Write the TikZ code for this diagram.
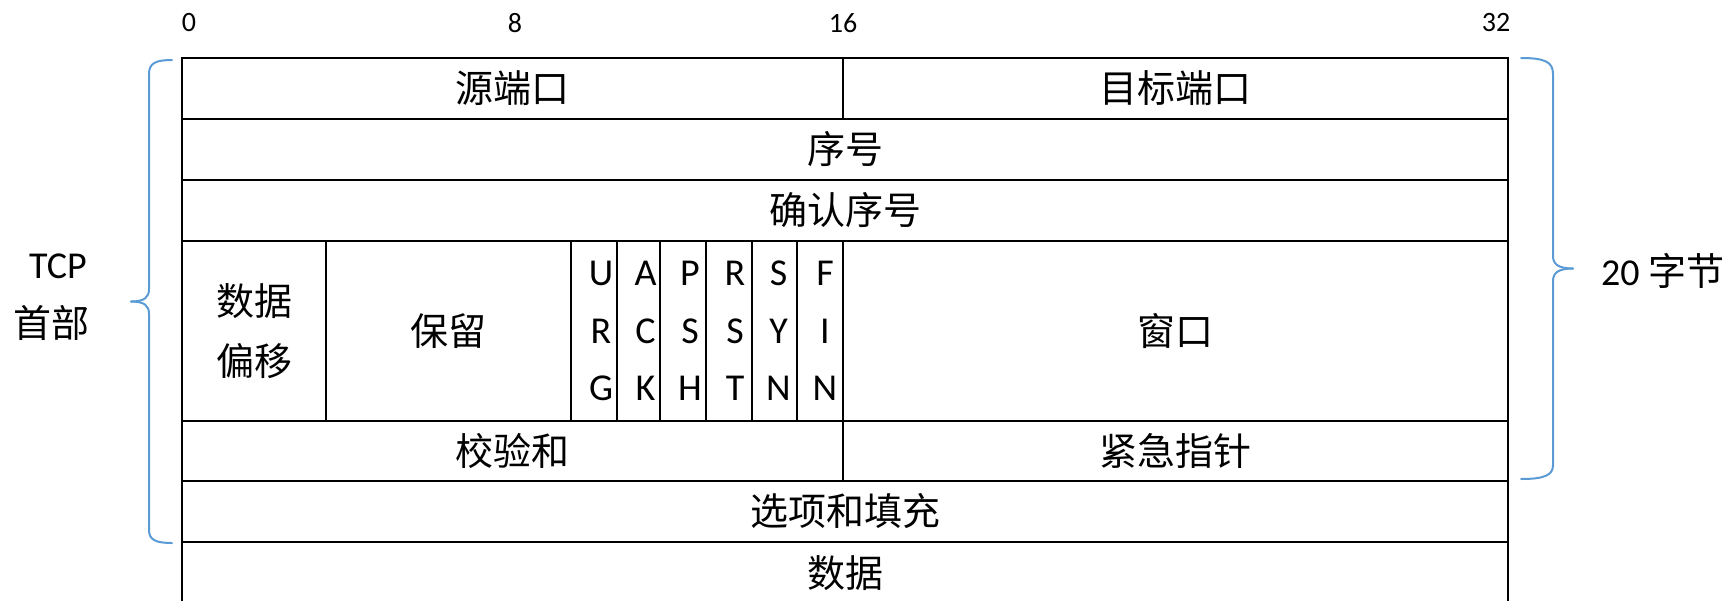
\documentclass[tikz,border=0pt]{standalone}
\usepackage{fontspec}
\setmainfont{Carlito}
\newfontfamily\cjk{Noto Sans CJK SC}
\definecolor{bracecol}{RGB}{91,155,213}
\begin{document}
\begin{tikzpicture}[x=1pt,y=-1pt,
  cell/.style={draw=black, line width=1.8pt, inner sep=0pt, outer sep=0pt, anchor=north west,
    font=\cjk\fontsize{38}{46}\selectfont},
  cellnb/.style={inner sep=0pt, outer sep=0pt, anchor=north west, font=\cjk\fontsize{38}{46}\selectfont},
  flagtxt/.style={inner sep=0pt, align=center, font=\fontsize{38}{57.5}\selectfont},
  bit/.style={inner sep=0pt, font=\fontsize{28}{30}\selectfont},
  side/.style={inner sep=0pt},
  brace/.style={draw=bracecol, line width=2pt, line cap=round}]
\useasboundingbox (0,0) rectangle (1731,600);

% bit positions
\node[bit] (b0) at (189,23) {0};
\node[bit] (b8) at (515,23) {8};
\node[bit] (b16) at (843,23) {16};
\node[bit] (b32) at (1496,23) {32};

% rows
\node[cell, minimum width=661pt, minimum height=61pt] (src) at (182,58) {源端口};
\node[cell, minimum width=665pt, minimum height=61pt] (dst) at (843,58) {目标端口};
\node[cell, minimum width=1326pt, minimum height=61pt] (seq) at (182,119) {序号};
\node[cell, minimum width=1326pt, minimum height=61pt] (ack) at (182,180) {确认序号};

\node[cell, minimum width=144pt, minimum height=180pt, align=center,
  font=\cjk\fontsize{38}{60}\selectfont] (off) at (182,241) {数据\\偏移};
\node[cell, minimum width=245pt, minimum height=180pt] (rsv) at (326,241) {保留};

\node[cell, minimum width=46pt, minimum height=180pt] (urg) at (571,241) {};
\node[cell, minimum width=43pt, minimum height=180pt] (ackf) at (617,241) {};
\node[cell, minimum width=46pt, minimum height=180pt] (psh) at (660,241) {};
\node[cell, minimum width=46pt, minimum height=180pt] (rst) at (706,241) {};
\node[cell, minimum width=45pt, minimum height=180pt] (syn) at (752,241) {};
\node[cell, minimum width=46pt, minimum height=180pt] (fin) at (797,241) {};
\node[flagtxt] (urgt) at ([xshift=7pt]urg.center) {U\\R\\G};
\node[flagtxt] (ackt) at ([xshift=7pt]ackf.center) {A\\C\\K};
\node[flagtxt] (psht) at ([xshift=7pt]psh.center) {P\\S\\H};
\node[flagtxt] (rstt) at ([xshift=6pt]rst.center) {R\\S\\T};
\node[flagtxt] (synt) at ([xshift=4pt]syn.center) {S\\Y\\N};
\node[flagtxt] (fint) at ([xshift=5pt]fin.center) {F\\I\\N};

\node[cell, minimum width=665pt, minimum height=180pt] (win) at (843,241) {窗口};

\node[cell, minimum width=661pt, minimum height=60pt] (chk) at (182,421) {校验和};
\node[cell, minimum width=665pt, minimum height=60pt] (urp) at (843,421) {紧急指针};
\node[cell, minimum width=1326pt, minimum height=61pt] (opt) at (182,481) {选项和填充};
\node[cellnb, minimum width=1326pt, minimum height=62pt] (data) at (182,542) {数据};
\draw[line width=1.8pt] (data.south west) -- (data.north west) -- (data.north east) -- (data.south east);

% left brace
\draw[brace] (172,60) .. controls (156,60) and (149,63) .. (149,74) -- (149,289)
  .. controls (149,297) and (145,301.5) .. (131,301.5);
\draw[brace] (131,301.5) .. controls (145,301.5) and (149,306) .. (149,314) -- (149,530)
  .. controls (149,540) and (156,543) .. (172,543);
\node[side, font=\fontsize{38}{40}\selectfont] (tcp) at (58,266) {TCP};
\node[side, font=\cjk\fontsize{38}{40}\selectfont] (hdr) at (51,323) {首部};

% right brace
\draw[brace] (1521,58) .. controls (1545,58) and (1553,62) .. (1553,74) -- (1553,256)
  .. controls (1553,264) and (1558,268.5) .. (1573,268.5);
\draw[brace] (1573,268.5) .. controls (1558,268.5) and (1553,273) .. (1553,281) -- (1553,465)
  .. controls (1553,475) and (1545,479) .. (1521,479);
\node[side, anchor=west, font=\fontsize{38}{40}\selectfont] (bytes) at (1601,271) {20 {\cjk 字节}};
\end{tikzpicture}
\end{document}
